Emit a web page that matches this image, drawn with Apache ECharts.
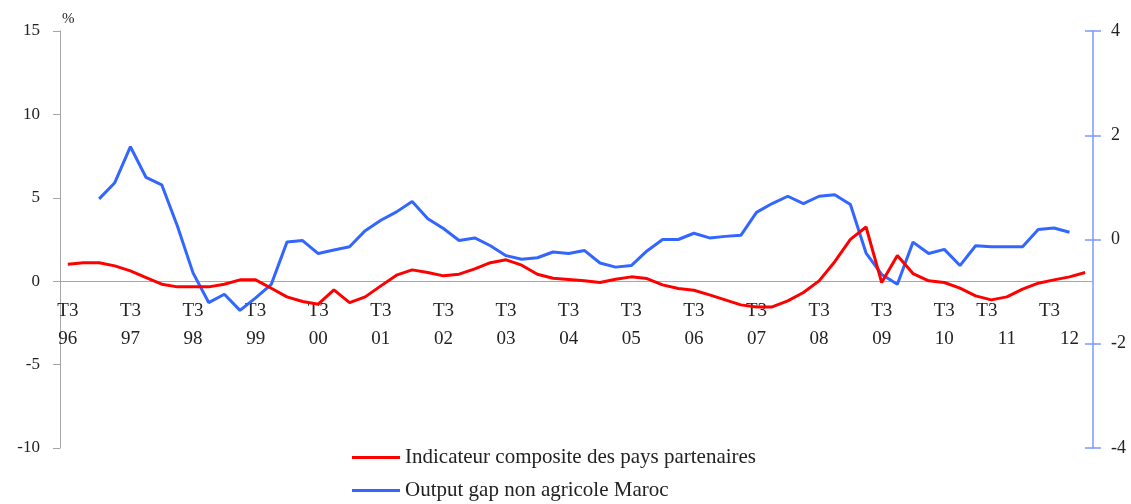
<!DOCTYPE html>
<html>
<head>
<meta charset="utf-8">
<script src="https://cdn.jsdelivr.net/npm/echarts@6/dist/echarts.min.js"></script>
<style>
  html, body { margin: 0; padding: 0; background: #fff; }
  #chart { width: 1131px; height: 504px; }
</style>
</head>
<body>
<div id="chart"></div>
<script>
// trimestres T3 1996 -> T4 2012
var categories = [
  "T3 96", "T4 96",
  "T1 97", "T2 97", "T3 97", "T4 97",
  "T1 98", "T2 98", "T3 98", "T4 98",
  "T1 99", "T2 99", "T3 99", "T4 99",
  "T1 00", "T2 00", "T3 00", "T4 00",
  "T1 01", "T2 01", "T3 01", "T4 01",
  "T1 02", "T2 02", "T3 02", "T4 02",
  "T1 03", "T2 03", "T3 03", "T4 03",
  "T1 04", "T2 04", "T3 04", "T4 04",
  "T1 05", "T2 05", "T3 05", "T4 05",
  "T1 06", "T2 06", "T3 06", "T4 06",
  "T1 07", "T2 07", "T3 07", "T4 07",
  "T1 08", "T2 08", "T3 08", "T4 08",
  "T1 09", "T2 09", "T3 09", "T4 09",
  "T1 10", "T2 10", "T3 10", "T4 10",
  "T1 11", "T2 11", "T3 11", "T4 11",
  "T1 12", "T2 12", "T3 12", "T4 12"
];

// Indicateur composite des pays partenaires (axe gauche, %)
var indicateur = [
  1.02, 1.11,
  1.11, 0.92, 0.62, 0.22,
  -0.18, -0.34, -0.34, -0.34,
  -0.18, 0.08, 0.08, -0.42,
  -0.94, -1.22, -1.38, -0.52,
  -1.28, -0.94, -0.28, 0.36,
  0.68, 0.52, 0.32, 0.42,
  0.74, 1.11, 1.28, 0.96,
  0.42, 0.18, 0.10, 0.02,
  -0.08, 0.12, 0.26, 0.16,
  -0.22, -0.44, -0.54, -0.82,
  -1.12, -1.42, -1.54, -1.54,
  -1.18, -0.68, 0.02, 1.17,
  2.51, 3.25, -0.08, 1.54,
  0.46, 0.02, -0.08, -0.42,
  -0.88, -1.12, -0.94, -0.48,
  -0.12, 0.08, 0.26, 0.52
];

// Output gap non agricole Maroc (axe droit)
var outputGap = [
  null, null,
  0.78, 1.09, 1.78, 1.19,
  1.05, 0.26, -0.64, -1.21,
  -1.05, -1.36, -1.12, -0.86,
  -0.05, -0.02, -0.27, -0.20,
  -0.14, 0.17, 0.37, 0.53,
  0.73, 0.40, 0.21, -0.02,
  0.03, -0.12, -0.31, -0.38,
  -0.35, -0.24, -0.27, -0.21,
  -0.45, -0.53, -0.50, -0.22,
  0.00, 0.00, 0.12, 0.03,
  0.06, 0.08, 0.52, 0.69,
  0.83, 0.69, 0.83, 0.86,
  0.67, -0.26, -0.67, -0.86,
  -0.05, -0.27, -0.19, -0.50,
  -0.12, -0.14, -0.14, -0.14,
  0.19, 0.22, 0.14, null
];

var seriesNames = [
  "Indicateur composite des pays partenaires",
  "Output gap non agricole Maroc"
];

// labels dont le "T3" est decale a gauche dans l'original
var shiftedLabels = ["T3 11", "T3 12"];

var font = "Liberation Serif";
var gridTop = 31, gridBottom = 56, leftMin = -10, leftMax = 15;
var gridH = 504 - gridTop - gridBottom;
// l'axe des x croise l'axe gauche a 0
var zeroOffset = -gridH * (0 - leftMin) / (leftMax - leftMin);

var chart = echarts.init(document.getElementById("chart"));

chart.setOption({
  backgroundColor: "#ffffff",
  animation: false,
  grid: { left: 60, right: 38, top: gridTop, bottom: gridBottom, outerBoundsMode: "none" },
  legend: {
    orient: "vertical",
    left: 352,
    top: 447,
    padding: 0,
    icon: "rect",
    itemWidth: 48,
    itemHeight: 3,
    itemGap: 12,
    data: seriesNames,
    textStyle: { fontFamily: font, fontSize: 21, color: "#222" }
  },
  xAxis: {
    type: "category",
    data: categories,
    boundaryGap: true,
    position: "bottom",
    offset: zeroOffset,
    axisLine: { onZero: false, lineStyle: { color: "#a6a6a6", width: 1 } },
    axisTick: { interval: 3, length: 5, lineStyle: { color: "#a6a6a6" } },
    axisLabel: {
      interval: 3,
      margin: 16,
      hideOverlap: false,
      formatter: function (v) {
        var p = v.split(" ");
        var t = shiftedLabels.indexOf(v) >= 0 ? "s" : "t";
        return "{" + t + "|" + p[0] + "}\n{y|" + p[1] + "}";
      },
      rich: {
        t: { fontFamily: font, fontSize: 19, lineHeight: 28, color: "#222" },
        s: { fontFamily: font, fontSize: 19, lineHeight: 28, color: "#222", padding: [0, 40, 0, 0] },
        y: { fontFamily: font, fontSize: 19, lineHeight: 28, color: "#222" }
      }
    }
  },
  yAxis: [
    {
      type: "value",
      min: leftMin,
      max: leftMax,
      interval: 5,
      name: "%",
      nameLocation: "end",
      nameGap: 4,
      nameTextStyle: {
        fontFamily: font, fontSize: 15, color: "#222",
        align: "left", verticalAlign: "bottom", padding: [0, 0, 0, 2]
      },
      axisLine: { show: true, lineStyle: { color: "#a6a6a6" } },
      axisTick: { show: true, length: 7, lineStyle: { color: "#a6a6a6" } },
      axisLabel: { margin: 20, fontFamily: font, fontSize: 17, color: "#222" },
      splitLine: { show: false }
    },
    {
      type: "value",
      position: "right",
      min: -4,
      max: 4,
      interval: 2,
      axisLine: { show: true, lineStyle: { color: "#7a98ff", width: 1.5 } },
      axisTick: { show: true, length: 8, lineStyle: { color: "#7a98ff", width: 1.5 } },
      axisLabel: { margin: 18, fontFamily: font, fontSize: 18, color: "#222" },
      splitLine: { show: false }
    },
    {
      // ticks interieurs pour imiter les graduations croisees
      type: "value",
      position: "right",
      min: -4,
      max: 4,
      interval: 2,
      axisLine: { show: false },
      axisTick: { show: true, inside: true, length: 8, lineStyle: { color: "#7a98ff", width: 1.5 } },
      axisLabel: { show: false },
      splitLine: { show: false }
    }
  ],
  series: [
    {
      name: seriesNames[0],
      type: "line",
      yAxisIndex: 0,
      data: indicateur,
      symbol: "none",
      lineStyle: { color: "#ff0000", width: 3 },
      itemStyle: { color: "#ff0000" },
      z: 3
    },
    {
      name: seriesNames[1],
      type: "line",
      yAxisIndex: 1,
      data: outputGap,
      symbol: "none",
      lineStyle: { color: "#3366ff", width: 3 },
      itemStyle: { color: "#3366ff" },
      z: 2
    }
  ]
});
</script>
</body>
</html>
